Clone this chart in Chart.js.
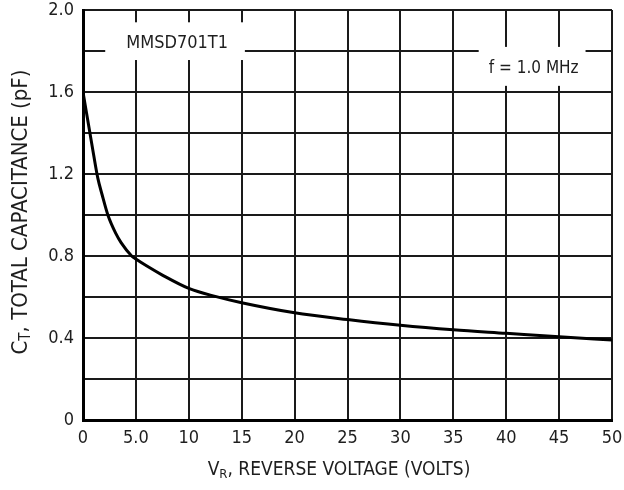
<!DOCTYPE html>
<html>
<head>
<meta charset="utf-8">
<script src="https://cdn.jsdelivr.net/npm/chart.js@4.4.0/dist/chart.umd.min.js"></script>
<style>
  html, body { margin: 0; padding: 0; background: #fff; }
  canvas { display: block; }
</style>
</head>
<body>
<canvas id="grafico" width="624" height="490"></canvas>
<script>
// curve
var voltage = [0, 1.0, 1.4, 1.8, 2.35, 3.1, 3.6, 4.6, 5, 6, 7.5, 10, 12.5, 15, 20, 25, 30, 35, 40, 45, 50];
var capacitance = [1.6, 1.295, 1.18, 1.1, 1.0, 0.91, 0.865, 0.80, 0.785, 0.752, 0.707, 0.642, 0.603, 0.572, 0.523, 0.49, 0.462, 0.44, 0.423, 0.406, 0.39];

var xTickValues = [0, 5, 10, 15, 20, 25, 30, 35, 40, 45, 50];
var xTickLabels = ['0', '5.0', '10', '15', '20', '25', '30', '35', '40', '45', '50'];
var yTickValues = [0, 0.4, 0.8, 1.2, 1.6, 2.0];
var yTickLabels = ['0', '0.4', '0.8', '1.2', '1.6', '2.0'];

var partLabel = 'MMSD701T1';
var freqLabel = 'f = 1.0 MHz';

var FONT = "'Liberation Sans Narrow', 'DejaVu Sans Condensed', 'Liberation Sans', Arial, sans-serif";
var INK = '#1e1e1e';

Chart.defaults.font.family = FONT;
Chart.defaults.color = INK;

// draw text made of pieces, some of them subscripts
function drawParts(ctx, parts, x, y, size) {
  var big = size + 'px ' + FONT, small = Math.round(size * 0.7) + 'px ' + FONT;
  var total = 0;
  parts.forEach(function(p){
    ctx.font = p.sub ? small : big;
    p.w = ctx.measureText(p.t).width;
    total += p.w;
  });
  var cx = x - total / 2;
  ctx.textAlign = 'left';
  ctx.textBaseline = 'middle';
  parts.forEach(function(p){
    ctx.font = p.sub ? small : big;
    ctx.fillText(p.t, cx, p.sub ? y + size * 0.25 : y);
    cx += p.w;
  });
}

var notes = {
  id: 'notes',
  beforeDatasetsDraw: function(chart){
    var ctx = chart.ctx, xs = chart.scales.x, ys = chart.scales.y;
    ctx.save();
    ctx.fillStyle = '#fff';
    // white patches that break the grid behind the labels
    var x0 = xs.getPixelForValue(2.1), x1 = xs.getPixelForValue(15.3);
    var y0 = ys.getPixelForValue(1.94), y1 = ys.getPixelForValue(1.756);
    ctx.fillRect(x0, y0, x1 - x0, y1 - y0);
    x0 = xs.getPixelForValue(37.4); x1 = xs.getPixelForValue(47.5);
    y0 = ys.getPixelForValue(1.82); y1 = ys.getPixelForValue(1.63);
    ctx.fillRect(x0, y0, x1 - x0, y1 - y0);

    ctx.fillStyle = INK;
    ctx.textAlign = 'center';
    ctx.textBaseline = 'middle';
    ctx.font = '18px ' + FONT;
    ctx.fillText(partLabel, xs.getPixelForValue(8.9), ys.getPixelForValue(1.835));
    ctx.font = '17px ' + FONT;
    ctx.fillText(freqLabel, xs.getPixelForValue(42.6), ys.getPixelForValue(1.714));
    ctx.restore();
  },
  afterDraw: function(chart){
    var ctx = chart.ctx, area = chart.chartArea;
    ctx.save();
    ctx.fillStyle = INK;
    drawParts(ctx, [{t: 'V'}, {t: 'R', sub: true}, {t: ', REVERSE VOLTAGE (VOLTS)'}], area.left + 256, 470, 19);
    ctx.translate(21, (area.top + area.bottom) / 2 - 3);
    ctx.rotate(-Math.PI / 2);
    drawParts(ctx, [{t: 'C'}, {t: 'T', sub: true}, {t: ', TOTAL CAPACITANCE (pF)'}], 0, 0, 22);
    ctx.restore();
  }
};

var points = voltage.map(function(v, i){ return {x: v, y: capacitance[i]}; });

var ctx = document.getElementById('grafico');
var chart = new Chart(ctx, {
  type: 'scatter',
  data: {
    datasets: [{
      data: points,
      showLine: true,
      borderColor: '#000',
      borderWidth: 3,
      pointRadius: 0,
      cubicInterpolationMode: 'monotone'
    }]
  },
  options: {
    responsive: false,
    animation: false,
    events: [],
    layout: { padding: { top: 10, right: 12, left: 0, bottom: 0 } },
    plugins: { legend: { display: false }, tooltip: { enabled: false } },
    scales: {
      x: {
        type: 'linear',
        min: 0,
        max: 50,
        afterFit: function(s){ s.height = 70; s.paddingLeft = 0; s.paddingRight = 0; },
        grid: { color: '#1a1a1a', lineWidth: 2, drawTicks: false },
        border: { color: '#000', width: 3 },
        ticks: {
          stepSize: 5,
          padding: 8,
          maxRotation: 0,
          autoSkip: false,
          font: { size: 18 },
          callback: function(v){
            var i = xTickValues.indexOf(v);
            return i >= 0 ? xTickLabels[i] : '';
          }
        }
      },
      y: {
        min: 0,
        max: 2,
        afterFit: function(s){ s.width = 83; s.paddingTop = 0; s.paddingBottom = 0; },
        grid: { color: '#1a1a1a', lineWidth: 2, drawTicks: false },
        border: { color: '#000', width: 3 },
        ticks: {
          stepSize: 0.2,
          padding: 9,
          autoSkip: false,
          font: { size: 18 },
          callback: function(v){
            var i = yTickValues.indexOf(Math.round(v * 10) / 10);
            return i >= 0 ? yTickLabels[i] : '';
          }
        }
      }
    }
  },
  plugins: [notes]
});
</script>
</body>
</html>
